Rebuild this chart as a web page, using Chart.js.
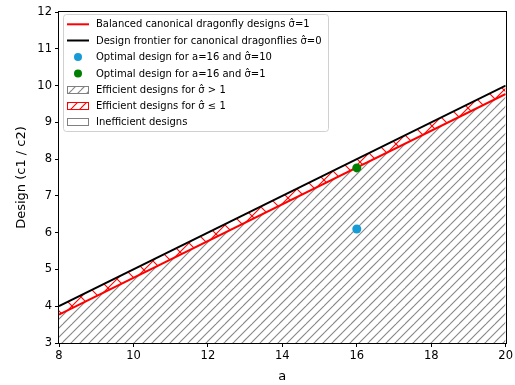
<!DOCTYPE html>
<html>
<head>
<meta charset="utf-8">
<script src="https://cdn.jsdelivr.net/npm/chart.js@4.4.1/dist/chart.umd.min.js"></script>
<style>
  html, body { margin: 0; padding: 0; background: #fff; }
  #wrap { width: 515px; height: 385px; position: relative; }
</style>
</head>
<body>
<div id="wrap"><canvas id="c" width="515" height="385"></canvas></div>
<script>
// Aspect ratio a on the x axis
const aValues = [8, 20];
// Design frontier for canonical dragonflies (sigma-hat = 0): c1/c2 = a/2
const frontierDesign = [4, 10];
// Balanced canonical dragonfly designs (sigma-hat = 1)
const balancedDesign = [3.77, 9.77];
// Optimal designs at a = 16
const optimalSigma10 = [{ x: 16, y: 6.1 }];
const optimalSigma1 = [{ x: 16, y: 7.76 }];
// Axis ticks
const xTicks = [8, 10, 12, 14, 16, 18, 20];
const yTicks = [3, 4, 5, 6, 7, 8, 9, 10, 11, 12];

const legendLabels = [
  'Balanced canonical dragonfly designs \u03C3\u0302=1',
  'Design frontier for canonical dragonflies \u03C3\u0302=0',
  'Optimal design for a=16 and \u03C3\u0302=10',
  'Optimal design for a=16 and \u03C3\u0302=1',
  'Efficient designs for \u03C3\u0302 > 1',
  'Efficient designs for \u03C3\u0302 \u2264 1',
  'Inefficient designs'
];

const FONT = '"DejaVu Sans", sans-serif';
const BLUE = '#169bd5';
const GREEN = '#008000';

// Diagonal hatch as a repeating canvas pattern ("/" lines, optionally crossed by "\")
function hatch(color, bg, step, cross) {
  const s = 18;
  const t = document.createElement('canvas');
  t.width = s; t.height = s;
  const g = t.getContext('2d');
  if (bg) { g.fillStyle = bg; g.fillRect(0, 0, s, s); }
  g.strokeStyle = color;
  g.lineWidth = 1.1;
  for (let c = -s; c <= 3 * s; c += step) {
    g.beginPath();
    g.moveTo(c + s, -s);
    g.lineTo(c - s, s);
    g.stroke();
    if (cross) {
      g.beginPath();
      g.moveTo(c - 2 * s, -s);
      g.lineTo(c, s);
      g.stroke();
    }
  }
  return g.createPattern(t, 'repeat');
}

const ctx0 = document.getElementById('c').getContext('2d');
const grayHatch = hatch('#858585', '#ffffff', 9, false);
const redHatch = hatch('#ff0000', null, 9, false);
const redBandHatch = hatch('#ff0000', null, 18, true);

const line = (arr) => aValues.map((a, i) => ({ x: a, y: arr[i] }));

// Frame around the plot area and the legend box
const decor = {
  id: 'decor',
  afterDatasetsDraw(chart) {
    const { ctx, chartArea: ca } = chart;
    ctx.save();
    ctx.strokeStyle = '#000';
    ctx.lineWidth = 1;
    ctx.strokeRect(Math.round(ca.left) - 0.5, Math.round(ca.top) - 0.5,
      Math.round(ca.right - ca.left) + 1, Math.round(ca.bottom - ca.top) + 1);

    // legend
    const bx = 63.5, by = 14.5, bw = 265, bh = 117, r = 3;
    ctx.beginPath();
    ctx.moveTo(bx + r, by);
    ctx.arcTo(bx + bw, by, bx + bw, by + bh, r);
    ctx.arcTo(bx + bw, by + bh, bx, by + bh, r);
    ctx.arcTo(bx, by + bh, bx, by, r);
    ctx.arcTo(bx, by, bx + bw, by, r);
    ctx.closePath();
    ctx.fillStyle = 'rgba(255,255,255,0.8)';
    ctx.fill();
    ctx.strokeStyle = '#d0d0d0';
    ctx.stroke();

    const rows = [24.3, 40.5, 57, 73.5, 89.5, 105.5, 121.7];
    const hx0 = 67, hx1 = 89, tx = 96;
    ctx.font = '10px ' + FONT;
    ctx.textBaseline = 'middle';
    ctx.textAlign = 'left';
    rows.forEach((y, i) => {
      if (i === 0 || i === 1) {
        ctx.strokeStyle = i === 0 ? '#ff0000' : '#000000';
        ctx.lineWidth = 2;
        ctx.beginPath();
        ctx.moveTo(hx0, y); ctx.lineTo(hx1, y);
        ctx.stroke();
      } else if (i === 2 || i === 3) {
        ctx.fillStyle = i === 2 ? BLUE : GREEN;
        ctx.beginPath();
        ctx.arc((hx0 + hx1) / 2, y, 4, 0, Math.PI * 2);
        ctx.fill();
      } else {
        const x = hx0 + 0.5, yy = Math.round(y - 4) + 0.5, w = 21, h = 7;
        ctx.fillStyle = '#ffffff';
        ctx.fillRect(x, yy, w, h);
        if (i !== 6) {
          ctx.fillStyle = i === 4 ? grayHatch : redHatch;
          ctx.fillRect(x, yy, w, h);
        }
        ctx.strokeStyle = i === 5 ? '#ff0000' : '#808080';
        ctx.lineWidth = 1;
        ctx.strokeRect(x, yy, w, h);
      }
      ctx.fillStyle = '#000';
      ctx.fillText(legendLabels[i], tx, y + 0.5);
    });
    ctx.restore();
  }
};

new Chart(ctx0, {
  type: 'scatter',
  data: {
    datasets: [
      {
        // region below the balanced line: efficient for sigma-hat > 1
        data: line(balancedDesign),
        showLine: true,
        borderColor: '#ff0000',
        borderWidth: 2,
        pointRadius: 0,
        fill: { target: 'start' },
        backgroundColor: grayHatch,
        order: 3
      },
      {
        // band between the balanced line and the frontier: efficient for sigma-hat <= 1
        data: line(frontierDesign),
        showLine: true,
        borderColor: '#000000',
        borderWidth: 2,
        pointRadius: 0,
        fill: { target: 0 },
        backgroundColor: redBandHatch,
        order: 2
      },
      {
        data: optimalSigma10,
        pointRadius: 4.5,
        pointBackgroundColor: BLUE,
        pointBorderWidth: 0,
        order: 1
      },
      {
        data: optimalSigma1,
        pointRadius: 4.5,
        pointBackgroundColor: GREEN,
        pointBorderWidth: 0,
        order: 0
      }
    ]
  },
  options: {
    responsive: false,
    animation: false,
    layout: { padding: { top: 12, right: 8, left: 0, bottom: 0 } },
    plugins: {
      legend: { display: false },
      tooltip: { enabled: false },
      filler: { drawTime: 'beforeDatasetsDraw' }
    },
    scales: {
      x: {
        type: 'linear',
        min: 8, max: 20,
        afterBuildTicks: (s) => { s.ticks = xTicks.map(v => ({ value: v })); },
        afterFit: (s) => { s.height = 42; },
        grid: { drawOnChartArea: false, tickLength: 4, color: '#000', tickColor: '#000' },
        border: { display: false },
        ticks: { color: '#000', font: { family: FONT, size: 11.5 }, padding: 2, maxRotation: 0 },
        title: { display: true, text: 'a', color: '#000', font: { family: FONT, size: 13 }, padding: { top: 0, bottom: 1 } }
      },
      y: {
        type: 'linear',
        min: 3, max: 12,
        afterBuildTicks: (s) => { s.ticks = yTicks.map(v => ({ value: v })); },
        afterFit: (s) => { s.width = 59; },
        grid: { drawOnChartArea: false, tickLength: 4, color: '#000', tickColor: '#000' },
        border: { display: false },
        ticks: { color: '#000', font: { family: FONT, size: 11.5 }, padding: 3 },
        title: { display: true, text: 'Design (c1 / c2)', color: '#000', font: { family: FONT, size: 13 }, padding: { top: 14, bottom: 4 } }
      }
    }
  },
  plugins: [decor]
});
</script>
</body>
</html>
